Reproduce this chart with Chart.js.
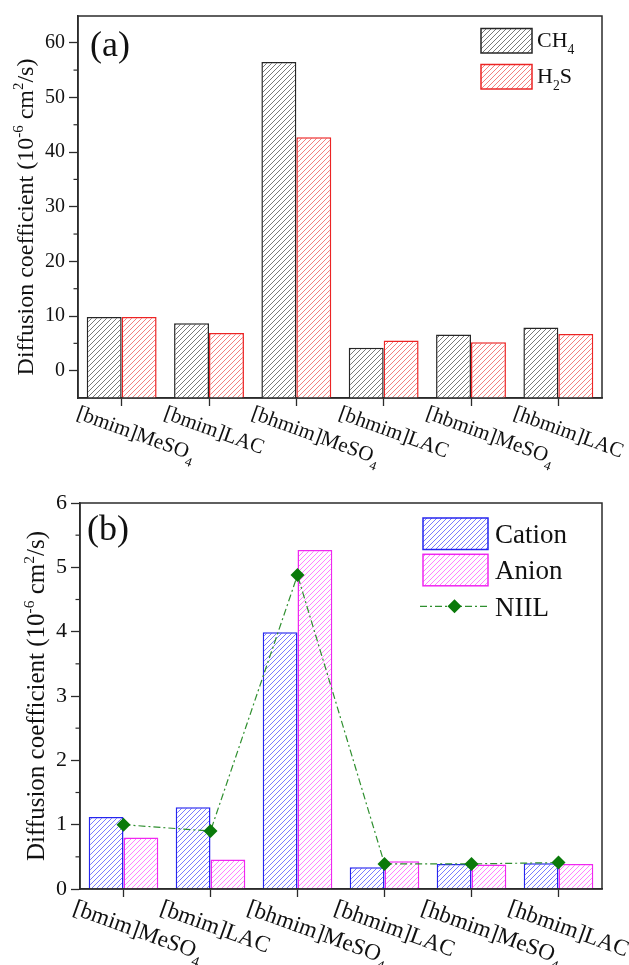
<!DOCTYPE html>
<html>
<head>
<meta charset="utf-8">
<script src="https://cdn.jsdelivr.net/npm/chart.js@4.4.0/dist/chart.umd.min.js"></script>
<style>
  html, body { margin: 0; padding: 0; background: #fff; }
  .panel { position: absolute; left: 0; width: 629px; }
  #pa { top: 0; height: 480px; }
  #pb { top: 480px; height: 485px; }
</style>
</head>
<body>
<div class="panel" id="pa"><canvas id="chartA"></canvas></div>
<div class="panel" id="pb"><canvas id="chartB"></canvas></div>
<script>
// --- data ---
// "_x" = subscript, "^{..}" = superscript
const categories = ['[bmim]MeSO_4', '[bmim]LAC', '[bhmim]MeSO_4', '[bhmim]LAC', '[hbmim]MeSO_4', '[hbmim]LAC'];

// panel (a): gas diffusion coefficients
const ch4 = [9.8, 8.7, 56.5, 4.2, 6.6, 7.9];
const h2s = [9.8, 6.9, 42.7, 5.5, 5.2, 6.7];

// panel (b): ion diffusion coefficients
const cation = [1.12, 1.27, 3.99, 0.34, 0.39, 0.40];
const anion = [0.80, 0.46, 5.27, 0.43, 0.38, 0.39];
const niil = [1.00, 0.90, 4.88, 0.39, 0.39, 0.41];

const yTitle = 'Diffusion coefficient (10^{-6} cm^2/s)';
const ticksA = [0, 10, 20, 30, 40, 50, 60];
const minorA = [5, 15, 25, 35, 45, 55];
const ticksB = [0, 1, 2, 3, 4, 5, 6];
const minorB = [0.5, 1.5, 2.5, 3.5, 4.5, 5.5];

const SERIF = '"Liberation Serif", "Times New Roman", serif';
const AXIS = '#2b2b2b';

// diagonal hatch fill
function hatch(color) {
    const n = 5;
    const c = document.createElement('canvas');
    c.width = n; c.height = n;
    const g = c.getContext('2d');
    g.fillStyle = '#fff';
    g.fillRect(0, 0, n, n);
    g.strokeStyle = color;
    g.lineWidth = 0.9;
    g.beginPath();
    g.moveTo(-1, n + 1); g.lineTo(n + 1, -1);
    g.moveTo(-1, 1); g.lineTo(1, -1);
    g.moveTo(n - 1, n + 1); g.lineTo(n + 1, n - 1);
    g.stroke();
    return g.createPattern(c, 'repeat');
}

// tiny rich text: _x subscript, ^x superscript, {} for groups
function parseRich(s) {
    const out = [];
    let buf = '', i = 0;
    while (i < s.length) {
        const c = s[i];
        if (c === '_' || c === '^') {
            if (buf) { out.push({ t: buf, m: 0 }); buf = ''; }
            let t;
            if (s[i + 1] === '{') {
                const j = s.indexOf('}', i);
                t = s.slice(i + 2, j);
                i = j + 1;
            } else {
                t = s[i + 1];
                i += 2;
            }
            out.push({ t, m: c === '_' ? 1 : 2 });
        } else {
            buf += c;
            i++;
        }
    }
    if (buf) out.push({ t: buf, m: 0 });
    return out;
}

function richWidth(ctx, s, size) {
    let w = 0;
    parseRich(s).forEach(p => {
        ctx.font = (p.m ? size * 0.62 : size) + 'px ' + SERIF;
        w += ctx.measureText(p.t).width;
    });
    return w;
}

function drawRich(ctx, s, x, y, size) {
    parseRich(s).forEach(p => {
        ctx.font = (p.m ? size * 0.62 : size) + 'px ' + SERIF;
        const dy = p.m === 1 ? size * 0.32 : (p.m === 2 ? -size * 0.42 : 0);
        ctx.fillText(p.t, x, y + dy);
        x += ctx.measureText(p.t).width;
    });
    return x;
}

// frame, minor ticks, axis title, rotated category labels, tag and legend
const panelDecor = {
    id: 'panelDecor',
    afterDraw(chart, args, o) {
        const ctx = chart.ctx;
        const area = chart.chartArea;
        const xs = chart.scales.x, ys = chart.scales.y;
        ctx.save();

        ctx.strokeStyle = AXIS;
        ctx.lineWidth = 1.5;
        ctx.strokeRect(area.left, area.top, area.right - area.left, area.bottom - area.top);

        ctx.lineWidth = 1.2;
        o.minor.forEach(v => {
            const p = ys.getPixelForValue(v);
            ctx.beginPath();
            ctx.moveTo(area.left - 4.5, p);
            ctx.lineTo(area.left, p);
            ctx.stroke();
        });

        ctx.fillStyle = '#111';
        ctx.textAlign = 'left';
        ctx.textBaseline = 'alphabetic';

        const w = richWidth(ctx, yTitle, o.titleSize);
        ctx.save();
        ctx.translate(o.titleX, (area.top + area.bottom) / 2 + o.titleShift);
        ctx.rotate(-Math.PI / 2);
        drawRich(ctx, yTitle, -w / 2, 0, o.titleSize);
        ctx.restore();

        categories.forEach((lab, i) => {
            const px = xs.getPixelForTick(i);
            ctx.save();
            ctx.translate(px + o.labelDx, area.bottom + o.labelDy);
            ctx.rotate(20 * Math.PI / 180);
            drawRich(ctx, lab, 0, o.labelSize * 0.72, o.labelSize);
            ctx.restore();
        });

        ctx.font = o.tagSize + 'px ' + SERIF;
        ctx.fillText(o.tag, area.left + o.tagDx, area.top + o.tagDy);

        const L = o.legend;
        chart.data.datasets.forEach((ds, i) => {
            const top = L.y + i * L.step;
            if (ds.type === 'line') {
                const cy = top + L.h / 2;
                ctx.save();
                ctx.strokeStyle = ds.borderColor;
                ctx.lineWidth = ds.borderWidth;
                ctx.setLineDash(ds.borderDash);
                ctx.beginPath();
                ctx.moveTo(L.x - 3, cy);
                ctx.lineTo(L.x + L.w, cy);
                ctx.stroke();
                ctx.restore();
                const cx = L.x + L.w / 2 - 1;
                const r = ds.pointRadius;
                ctx.fillStyle = ds.pointBackgroundColor;
                ctx.beginPath();
                ctx.moveTo(cx, cy - r); ctx.lineTo(cx + r, cy);
                ctx.lineTo(cx, cy + r); ctx.lineTo(cx - r, cy);
                ctx.closePath();
                ctx.fill();
            } else {
                ctx.fillStyle = ds.backgroundColor;
                ctx.fillRect(L.x, top, L.w, L.h);
                ctx.strokeStyle = ds.borderColor;
                ctx.lineWidth = 1.5;
                ctx.strokeRect(L.x, top, L.w, L.h);
            }
            ctx.fillStyle = '#111';
            drawRich(ctx, ds.label, L.tx, top + L.tb, L.size);
        });

        ctx.restore();
    }
};

function axes(min, max, tickValues, yWidth, xHeight, tickSize) {
    return {
        x: {
            grid: { display: true, drawOnChartArea: false, offset: false, drawTicks: true,
                    tickLength: 8, tickColor: AXIS, tickWidth: 1.3 },
            border: { display: true, color: AXIS, width: 1.5 },
            ticks: { display: false },
            afterFit: s => { s.height = xHeight; }
        },
        y: {
            min: min,
            max: max,
            grid: { display: true, drawOnChartArea: false, drawTicks: true,
                    tickLength: 9, tickColor: AXIS, tickWidth: 1.3 },
            border: { display: true, color: AXIS, width: 1.5 },
            ticks: { color: '#111', padding: 4, font: { family: SERIF, size: tickSize } },
            afterBuildTicks: s => { s.ticks = tickValues.map(v => ({ value: v })); },
            afterFit: s => { s.width = yWidth; }
        }
    };
}

const common = {
    responsive: true,
    maintainAspectRatio: false,
    animation: false,
    events: []
};

new Chart(document.querySelector('#chartA'), {
    type: 'bar',
    data: {
        labels: categories,
        datasets: [
            { label: 'CH_4', data: ch4, backgroundColor: hatch('#6a6a6a'), borderColor: '#262626',
              borderWidth: 1.5, base: -5, order: 1 },
            { label: 'H_2S', data: h2s, backgroundColor: hatch('#f27070'), borderColor: '#ec2424',
              borderWidth: 1.5, base: -5, order: 1 }
        ]
    },
    options: Object.assign({}, common, {
        datasets: { bar: { categoryPercentage: 0.8, barPercentage: 1.0 } },
        layout: { padding: { top: 11, right: 27, left: 0, bottom: 0 } },
        scales: axes(-5, 64.9, ticksA, 78, 82, 20),
        plugins: {
            legend: { display: false },
            tooltip: { enabled: false },
            panelDecor: {
                minor: minorA, titleX: 33, titleShift: 10, titleSize: 24,
                labelDx: -41, labelDy: 6, labelSize: 21,
                tag: '(a)', tagSize: 36, tagDx: 12, tagDy: 40,
                legend: { x: 481, y: 28.5, w: 51, h: 24.5, step: 36, tx: 537, tb: 18.5, size: 22 }
            }
        }
    }),
    plugins: [panelDecor]
});

new Chart(document.querySelector('#chartB'), {
    type: 'bar',
    data: {
        labels: categories,
        datasets: [
            { label: 'Cation', data: cation, backgroundColor: hatch('#6b6bff'), borderColor: '#2626ee',
              borderWidth: 1.5, order: 1 },
            { label: 'Anion', data: anion, backgroundColor: hatch('#ff72ff'), borderColor: '#f028f0',
              borderWidth: 1.5, order: 1 },
            { type: 'line', label: 'NIIL', data: niil, borderColor: '#2f8f2f', borderWidth: 1.2,
              borderDash: [7, 3, 2, 3], pointStyle: 'rectRot', pointRadius: 7,
              pointBackgroundColor: '#0a7a0a', pointBorderColor: '#0a7a0a', pointBorderWidth: 0,
              fill: false, order: 0 }
        ]
    },
    options: Object.assign({}, common, {
        datasets: { bar: { categoryPercentage: 0.8, barPercentage: 1.0 } },
        layout: { padding: { top: 23, right: 27, left: 0, bottom: 0 } },
        scales: axes(0, 6, ticksB, 80, 76, 22),
        plugins: {
            legend: { display: false },
            tooltip: { enabled: false },
            panelDecor: {
                minor: minorB, titleX: 44, titleShift: 0, titleSize: 25,
                labelDx: -46, labelDy: 9, labelSize: 23,
                tag: '(b)', tagSize: 36, tagDx: 7, tagDy: 37,
                legend: { x: 423, y: 38, w: 65, h: 31.5, step: 36.3, tx: 495, tb: 25, size: 27 }
            }
        }
    }),
    plugins: [panelDecor]
});
</script>
</body>
</html>
